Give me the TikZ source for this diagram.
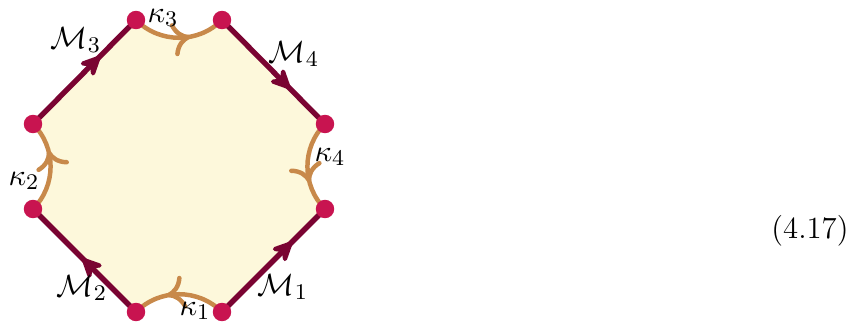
\documentclass[tikz,border=0pt]{standalone}
\usepackage{amsmath, amssymb}
\usepackage{tikz}
\usetikzlibrary{arrows.meta, decorations.markings}

\definecolor{edgered}{RGB}{122,4,50}
\definecolor{dotred}{RGB}{200,20,80}
\definecolor{arcorange}{RGB}{200,137,74}
\definecolor{facefill}{RGB}{253,248,219}

\tikzset{
  medge/.style={edgered, line width=1.9pt, postaction={decorate},
    decoration={markings, mark=at position #1 with {\arrow{Stealth[length=9.5pt,width=9pt,inset=3.5pt,round]}}}},
  karc/.style={arcorange, line width=1.6pt, line cap=round, postaction={decorate},
    decoration={markings, mark=at position #1 with {\arrow{Computer Modern Rightarrow[length=6.5pt,width=12pt,line cap=round]}}}},
  vdot/.style={dotred},
}

\begin{document}
\begin{tikzpicture}[x=0.3571pt, y=0.3571pt, font=\fontsize{11}{13}\selectfont]
  \useasboundingbox (0,0) rectangle (860,326);
  % corners of the octagon
  \coordinate (a1) at (136,14);
  \coordinate (a2) at (222,14);
  \coordinate (a3) at (325,117);
  \coordinate (a4) at (325,202);
  \coordinate (a5) at (222,306);
  \coordinate (a6) at (136,306);
  \coordinate (a7) at (33,202);
  \coordinate (a8) at (33,117);
  % face
  \fill[facefill] (a1) to[out=45,in=135] (a2) -- (a3) to[out=135,in=225] (a4) -- (a5)
    to[out=225,in=-45] (a6) -- (a7) to[out=-45,in=45] (a8) -- cycle;
  % kappa arcs
  \draw[karc=0.63] (a2) to[out=135,in=45] (a1);
  \draw[karc=0.67] (a4) to[out=225,in=135] (a3);
  \draw[karc=0.62] (a6) to[out=-45,in=225] (a5);
  \draw[karc=0.67] (a8) to[out=45,in=-45] (a7);
  % M edges
  \draw[medge=0.68] (a2) -- (a3);
  \draw[medge=0.66] (a5) -- (a4);
  \draw[medge=0.65] (a7) -- (a6);
  \draw[medge=0.52] (a1) -- (a8);
  \foreach \i in {1,...,8}
    \fill[vdot] (a\i) circle (3.3pt);
  % labels
  \node (lM1) at (283,39) {$\mathcal{M}_1$};
  \node (lM2) at (82,38) {$\mathcal{M}_2$};
  \node (lM3) at (76,286) {$\mathcal{M}_3$};
  \node (lM4) at (294,272) {$\mathcal{M}_4$};
  \node (lk1) at (195,15) {$\kappa_1$};
  \node (lk2) at (24,145) {$\kappa_2$};
  \node (lk3) at (163,308) {$\kappa_3$};
  \node (lk4) at (330,169) {$\kappa_4$};
  \node (eqno) at (810,95) {(4.17)};
\end{tikzpicture}
\end{document}
